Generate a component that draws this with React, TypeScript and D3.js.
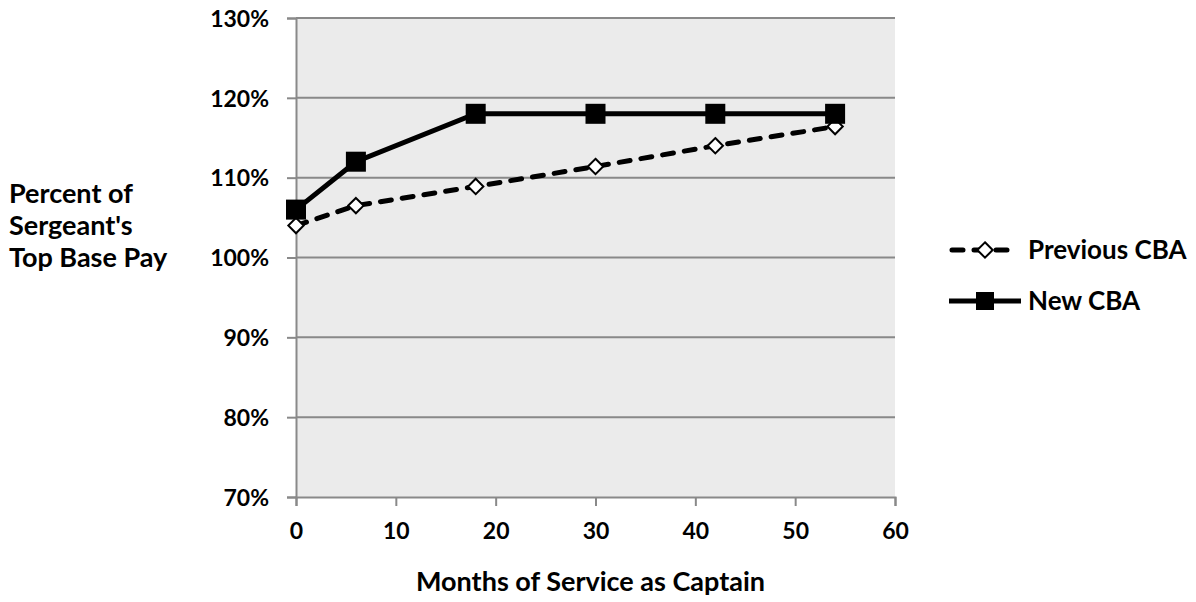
import { useEffect, useRef } from 'react';
import * as d3 from 'd3';

// chart data
const months = [0, 6, 18, 30, 42, 54];
const previousCBA = [104.0, 106.5, 108.9, 111.4, 114.0, 116.4];
const newCBA = [106.0, 112.0, 118.0, 118.0, 118.0, 118.0];
const xTicks = [0, 10, 20, 30, 40, 50, 60];
const yTicks = [70, 80, 90, 100, 110, 120, 130];
const yTitleLines = ['Percent of', "Sergeant's", 'Top Base Pay'];
const seriesNames = ['Previous CBA', 'New CBA'];

const FONT = "Lato, 'Open Sans', sans-serif";
const GRID = '#898989';

export default function App() {
  const svgRef = useRef<SVGSVGElement>(null);

  useEffect(() => {
    if (!svgRef.current) return;
    const svg = d3.select(svgRef.current);
    svg.selectAll('*').remove();

    const left = 296, right = 895, top = 18, bottom = 497;

    const x = d3.scaleLinear().domain([0, 60]).range([left, right]);
    const y = d3.scaleLinear().domain([70, 130]).range([bottom, top]);

    // plot background
    svg.append('rect')
      .attr('x', left).attr('y', top)
      .attr('width', right - left).attr('height', bottom - top)
      .attr('fill', '#ebebeb');

    // horizontal gridlines
    svg.append('g')
      .selectAll('line')
      .data(yTicks.filter(t => t !== 70))
      .enter()
      .append('line')
      .attr('x1', left).attr('x2', right)
      .attr('y1', d => y(d)).attr('y2', d => y(d))
      .attr('stroke', GRID)
      .attr('stroke-width', 2);

    // y axis
    const yAxis = svg.append('g')
      .attr('transform', `translate(${left},0)`)
      .call(d3.axisLeft(y).tickValues(yTicks).tickSize(9).tickPadding(18).tickFormat(d => `${d}%`));
    yAxis.select('.domain').attr('stroke', GRID).attr('stroke-width', 2);
    yAxis.selectAll('.tick line').attr('stroke', GRID).attr('stroke-width', 2);
    yAxis.selectAll('.tick text')
      .attr('fill', '#000')
      .attr('dy', '0.36em')
      .style('font-family', FONT)
      .style('font-weight', 'bold')
      .style('font-size', '23px');

    // x axis
    const xAxis = svg.append('g')
      .attr('transform', `translate(0,${bottom})`)
      .call(d3.axisBottom(x).tickValues(xTicks).tickSize(9).tickPadding(17));
    xAxis.select('.domain').attr('stroke', GRID).attr('stroke-width', 2);
    xAxis.selectAll('.tick line').attr('stroke', GRID).attr('stroke-width', 2);
    xAxis.selectAll('.tick text')
      .attr('fill', '#000')
      .style('font-family', FONT)
      .style('font-weight', 'bold')
      .style('font-size', '23px');

    const prevPts = months.map((m, i) => [m, previousCBA[i]] as [number, number]);
    const newPts = months.map((m, i) => [m, newCBA[i]] as [number, number]);
    const line = d3.line<[number, number]>().x(d => x(d[0])).y(d => y(d[1]));
    const diamond = d3.symbol().type(d3.symbolDiamond2).size(150);
    const sq = 20;

    // previous CBA: dashed line + open diamonds (drawn first, like Excel)
    svg.append('path')
      .attr('d', line(prevPts))
      .attr('fill', 'none')
      .attr('stroke', '#000')
      .attr('stroke-width', 5)
      .attr('stroke-dasharray', '11,11')
      .attr('stroke-linecap', 'round');

    svg.append('g')
      .selectAll('path')
      .data(prevPts)
      .enter()
      .append('path')
      .attr('transform', d => `translate(${x(d[0])},${y(d[1])})`)
      .attr('d', diamond())
      .attr('fill', '#fff')
      .attr('stroke', '#000')
      .attr('stroke-width', 2);

    // new CBA: solid line + filled squares on top
    svg.append('path')
      .attr('d', line(newPts))
      .attr('fill', 'none')
      .attr('stroke', '#000')
      .attr('stroke-width', 5);

    svg.append('g')
      .selectAll('rect')
      .data(newPts)
      .enter()
      .append('rect')
      .attr('x', d => x(d[0]) - sq / 2)
      .attr('y', d => y(d[1]) - sq / 2)
      .attr('width', sq).attr('height', sq)
      .attr('fill', '#000');

    // axis titles
    svg.append('text')
      .attr('x', (left + right) / 2 - 5).attr('y', 591)
      .attr('text-anchor', 'middle')
      .style('font-family', FONT)
      .style('font-weight', 'bold')
      .style('font-size', '27px')
      .text('Months of Service as Captain');

    yTitleLines.forEach((t, i) => {
      svg.append('text')
        .attr('x', 9).attr('y', 203 + i * 32)
        .style('font-family', FONT)
        .style('font-weight', 'bold')
        .style('font-size', '27px')
        .text(t);
    });

    // legend
    const legend = svg.append('g').attr('transform', 'translate(949,0)');
    const prevRow = legend.append('g').attr('transform', 'translate(0,250)');
    prevRow.append('line')
      .attr('x1', 3).attr('x2', 62).attr('y1', 0).attr('y2', 0)
      .attr('stroke', '#000').attr('stroke-width', 5)
      .attr('stroke-dasharray', '11,11')
      .attr('stroke-linecap', 'round');
    prevRow.append('path')
      .attr('transform', 'translate(36,0)')
      .attr('d', diamond())
      .attr('fill', '#fff').attr('stroke', '#000').attr('stroke-width', 2);
    prevRow.append('text')
      .attr('x', 79).attr('y', 9)
      .style('font-family', FONT).style('font-weight', 'bold').style('font-size', '26px')
      .text(seriesNames[0]);

    const newRow = legend.append('g').attr('transform', 'translate(0,301)');
    newRow.append('line')
      .attr('x1', 0).attr('x2', 72).attr('y1', 0).attr('y2', 0)
      .attr('stroke', '#000').attr('stroke-width', 5);
    newRow.append('rect')
      .attr('x', 36 - 9).attr('y', -9)
      .attr('width', 18).attr('height', 18)
      .attr('fill', '#000');
    newRow.append('text')
      .attr('x', 79).attr('y', 9)
      .style('font-family', FONT).style('font-weight', 'bold').style('font-size', '26px')
      .text(seriesNames[1]);
  }, []);

  return (
    <div>
      <style>{'body{margin:0;background:#fff}'}</style>
      <svg ref={svgRef} width={1196} height={602} />
    </div>
  );
}
